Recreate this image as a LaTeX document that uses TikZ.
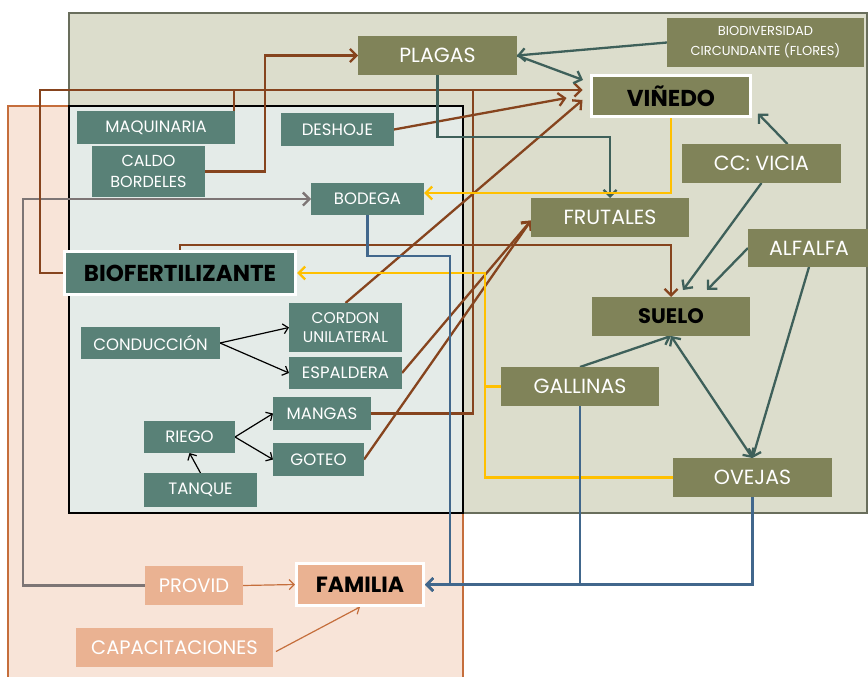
\documentclass[tikz,border=0pt]{standalone}
\usepackage{fontspec}
\setmainfont{Poppins}
\usetikzlibrary{arrows.meta,calc}
\pgfdeclarelayer{back}
\pgfdeclarelayer{mid}
\pgfsetlayers{back,mid,main}
\definecolor{oliveN}{RGB}{128,131,89}
\definecolor{oliveBG}{RGB}{220,221,204}
\definecolor{oliveBD}{RGB}{105,110,92}
\definecolor{tealN}{RGB}{89,129,119}
\definecolor{innerBG}{RGB}{228,235,232}
\definecolor{peachBG}{RGB}{248,228,216}
\definecolor{peachN}{RGB}{234,178,146}
\definecolor{peachBD}{RGB}{197,110,60}
\definecolor{brownL}{RGB}{134,68,30}
\definecolor{tealL}{RGB}{62,96,90}
\definecolor{blueL}{RGB}{65,103,140}
\definecolor{yellowL}{RGB}{255,192,0}
\definecolor{grayL}{RGB}{125,117,117}
\begin{document}
\begin{tikzpicture}[x=1pt,y=-1pt,
  lab/.style={inner sep=0pt, outer sep=0pt, align=center, text=white},
  sz/.style 2 args={minimum width=#1pt, minimum height=#2pt},
  ob/.style={lab, fill=oliveN, font=\fontsize{20.5}{24}\selectfont},
  tb/.style={lab, fill=tealN, font=\fontsize{16.5}{20}\selectfont},
  pb/.style={lab, fill=peachN, font=\fontsize{19.5}{24}\selectfont},
  hl/.style={draw=white, line width=3pt, outer sep=1.5pt, text=black, font=\bfseries\fontsize{22}{26}\selectfont},
  con/.style={line width=2.3pt},
  br/.style={con, draw=brownL},
  tl/.style={con, draw=tealL},
  bl/.style={con, draw=blueL},
  ye/.style={con, draw=yellowL},
  gr/.style={con, draw=grayL},
  bk/.style={line width=1.2pt, draw=black},
  orl/.style={line width=1.2pt, draw=peachBD},
  tip/.style={-{Straight Barb[length=6.5pt,width=13pt]}},
  tipb/.style={{Straight Barb[length=6.5pt,width=13pt]}-{Straight Barb[length=6.5pt,width=13pt]}},
  tips/.style={-{Straight Barb[length=5pt,width=10pt]}}
]
\useasboundingbox (0,0) rectangle (868,677);

% ---------- nodes ----------
\node[ob, sz={159}{39}] (plagas) at (437.5,55.5) {PLAGAS};
\node[ob, sz={197}{49}, font=\fontsize{13}{20}\selectfont] (biod) at (765.5,42.5) {BIODIVERSIDAD\\CIRCUNDANTE (FLORES)};
\node[ob, hl, sz={159}{41}, font=\bfseries\fontsize{23}{27}\selectfont] (vin) at (671,96) {VIÑEDO};
\node[ob, sz={159}{39}] (vic) at (761.5,163.5) {CC: VICIA};
\node[ob, sz={158}{39}] (fru) at (610,217.5) {FRUTALES};
\node[ob, sz={122}{38}] (alf) at (809,248) {ALFALFA};
\node[ob, sz={158}{39}, text=black, font=\bfseries\fontsize{21}{25}\selectfont] (suelo) at (671,316.5) {SUELO};
\node[ob, sz={158}{39}] (gal) at (580,386.5) {GALLINAS};
\node[ob, sz={159}{39}] (ove) at (752.5,477.5) {OVEJAS};

\node[tb, sz={158}{33}] (maq) at (156,127.5) {MAQUINARIA};
\node[tb, sz={113}{51}, font=\fontsize{16}{21}\selectfont] (cal) at (148.5,171.5) {CALDO\\BORDELES};
\node[tb, sz={113}{33}] (des) at (337.5,129.5) {DESHOJE};
\node[tb, sz={113}{32}] (bod) at (367.5,199) {BODEGA};
\node[tb, hl, sz={231}{43}, font=\bfseries\fontsize{23}{27}\selectfont] (bio) at (180,273) {BIOFERTILIZANTE};
\node[tb, sz={139}{32}] (con) at (150.5,343) {CONDUCCIÓN};
\node[tb, sz={113}{49}, font=\fontsize{15.5}{19}\selectfont] (cor) at (345.5,327.5) {CORDON\\UNILATERAL};
\node[tb, sz={113}{32}] (esp) at (345.5,373) {ESPALDERA};
\node[tb, sz={98}{33}] (man) at (322,413.5) {MANGAS};
\node[tb, sz={91}{32}] (rie) at (189.5,437) {RIEGO};
\node[tb, sz={91}{33}] (got) at (318.5,459.5) {GOTEO};
\node[tb, sz={113}{34}] (tan) at (200.5,490) {TANQUE};

\node[pb, sz={98}{39}] (pro) at (194,585.5) {PROVID};
\node[pb, hl, sz={127}{42}] (fam) at (360,584.5) {FAMILIA};
\node[pb, sz={197}{39}] (cap) at (174.5,647.5) {CAPACITACIONES};

% ---------- backgrounds ----------
\begin{pgfonlayer}{back}
\filldraw[fill=oliveBG, draw=oliveBD, line width=1.5pt] (69,13) rectangle (867,513);
\filldraw[fill=peachBG, draw=peachBD, line width=1.5pt] (8,106) rectangle (463,680);
\filldraw[fill=innerBG, draw=black, line width=1.2pt] (69,106) rectangle (463,513);
\end{pgfonlayer}

% ---------- connectors ----------
\begin{pgfonlayer}{mid}
% gray
\draw[gr,tip] (pro.west) -- ++(-122,0) |- (bod.west);
% brown
\draw[br,tip] (bio.west) -- ++(-23,0) |- ([shift={(-7.5,-6)}]vin.west);
\draw[br] ([xshift=-1pt]maq.north east) -- ++(0,-21);
\draw[br] (man.east) -- ++(102,0) -- ++(0,-323.5);
\draw[br,tip] (cal.east) -- ++(60,0) |- (plagas.west);
\draw[br,tip] (des.east) -- ([shift={(-23.5,2)}]vin.west);
\draw[br,tip] (cor.north) -- ([shift={(-7.5,4)}]vin.west);
\draw[br,tip] (bio.north) -- ++(0,-5) -| (suelo.north);
\draw[br,tip] (esp.east) -- ([yshift=-3pt]fru.west);
\draw[br,tip] (got.east) -- ([yshift=-3pt]fru.west);
% teal
\draw[tl,tip] (biod.west) -- (plagas.east);
\draw[tl,tip] (plagas.east) -- ([shift={(-7,6)}]vin.north west);
\draw[tl,tip] (plagas.south) -- ++(0,62) -| (fru.north);
\draw[tl,tip] ([xshift=26pt]vic.north) -- ([shift={(6,-4.5)}]vin.south east);
\draw[tl,tip] (vic.south) -- ([shift={(12,-7)}]suelo.north);
\draw[tl,tip] (alf.west) -- ([shift={(36,-7)}]suelo.north);
\draw[tl,tip] (alf.south) -- (ove.north);
\draw[tl,tipb] (suelo.south) -- (ove.north);
\draw[tl,tip] (gal.north) -- (suelo.south);
% yellow
\coordinate (yj) at (485,273);
\draw[ye,tip] (vin.south) |- ([yshift=6pt]bod.east);
\draw[ye,tip] (ove.west) -| (yj) -- (bio.east);
\draw[ye] (gal.west) -- (gal.west -| yj);
% blue
\draw[bl,tip] (bod.south) -- ++(0,41) -| ([xshift=25pt]fam.east) -- (fam.east);
\draw[bl,tip] (gal.south) |- (fam.east);
\draw[bl,tip] (ove.south) |- (fam.east);
% black
\draw[bk,tips] (con.east) -- (cor.west);
\draw[bk,tips] (con.east) -- (esp.west);
\draw[bk,tips] (rie.east) -- (man.west);
\draw[bk,tips] (rie.east) -- (got.west);
\draw[bk,tips] (tan.north) -- (rie.south);
% orange
\draw[orl,tips] (pro.east) -- (fam.west);
\draw[orl,tips] ([shift={(3,4)}]cap.east) -- (fam.south);
\end{pgfonlayer}
\end{tikzpicture}
\end{document}
